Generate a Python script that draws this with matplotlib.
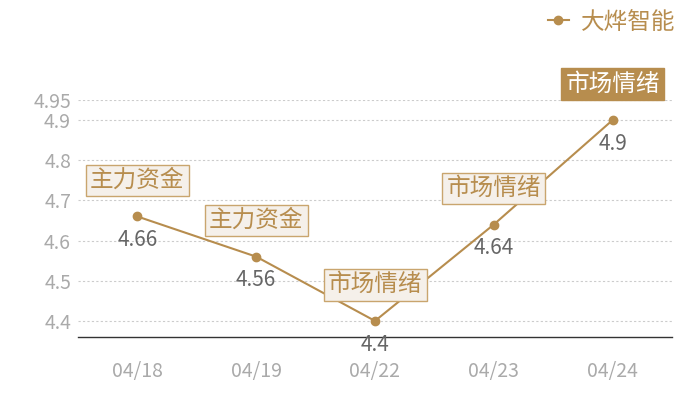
import matplotlib
matplotlib.use("Agg")
import matplotlib.pyplot as plt
from matplotlib.lines import Line2D

plt.rcParams['font.family'] = ['Noto Sans CJK SC', 'DejaVu Sans']

dates = ["04/18", "04/19", "04/22", "04/23", "04/24"]
values = [4.66, 4.56, 4.4, 4.64, 4.9]
tags = ["主力资金", "主力资金", "市场情绪", "市场情绪", "市场情绪"]
highlight = [False, False, False, False, True]
series_name = "大烨智能"
yticks = [4.4, 4.5, 4.6, 4.7, 4.8, 4.9, 4.95]
ytick_labels = ["4.4", "4.5", "4.6", "4.7", "4.8", "4.9", "4.95"]

gold = "#B78D4E"
fig = plt.figure(figsize=(7, 4), dpi=100)
ax = fig.add_axes([78/700, 1-337/400, 594/700, 237/400])

x = list(range(len(dates)))
ax.plot(x, values, color=gold, lw=1.5, marker='o', ms=6, zorder=3)
ax.set_xlim(-0.5, len(dates)-0.5)
ax.set_ylim(4.36, 4.95)
ax.set_yticks(yticks)
ax.set_yticklabels(ytick_labels)
ax.set_xticks(x)
ax.set_xticklabels(dates)
ax.tick_params(axis='both', length=0, colors="#AAAAAA", labelsize=14)
ax.tick_params(axis='x', pad=17)
ax.tick_params(axis='y', pad=5)
ax.grid(axis='y', color="#CCCCCC", ls=(0, (2, 2)), lw=0.8)
for s in ['top', 'right', 'left']:
    ax.spines[s].set_visible(False)
ax.spines['bottom'].set_color("#333333")
ax.spines['bottom'].set_linewidth(1)

for xi, v, t, h in zip(x, values, tags, highlight):
    ax.annotate(f"{v:g}", (xi, v), xytext=(0, -17), textcoords='offset points',
                ha='center', va='center', fontsize=15, color="#666666", zorder=4)
    if h:
        bbox = dict(boxstyle='square,pad=0.18', fc=gold, ec=gold, lw=1)
        tc = "white"
    else:
        bbox = dict(boxstyle='square,pad=0.18', fc="#F5F0EA", ec="#C9A56E", lw=1)
        tc = gold
    ax.annotate(t, (xi, v), xytext=(0, 26), textcoords='offset points',
                ha='center', va='center', fontsize=17, color=tc, bbox=bbox, zorder=5)

handle = Line2D([], [], color=gold, lw=1.5, marker='o', ms=6)
leg = fig.legend([handle], [series_name], loc='upper right', bbox_to_anchor=(686/700, 1.0),
                 frameon=False, fontsize=17, handlelength=0.9, handletextpad=0.5,
                 borderaxespad=0.45, borderpad=0.0)
for t in leg.get_texts():
    t.set_color(gold)

fig.savefig("out.png", dpi=100)
